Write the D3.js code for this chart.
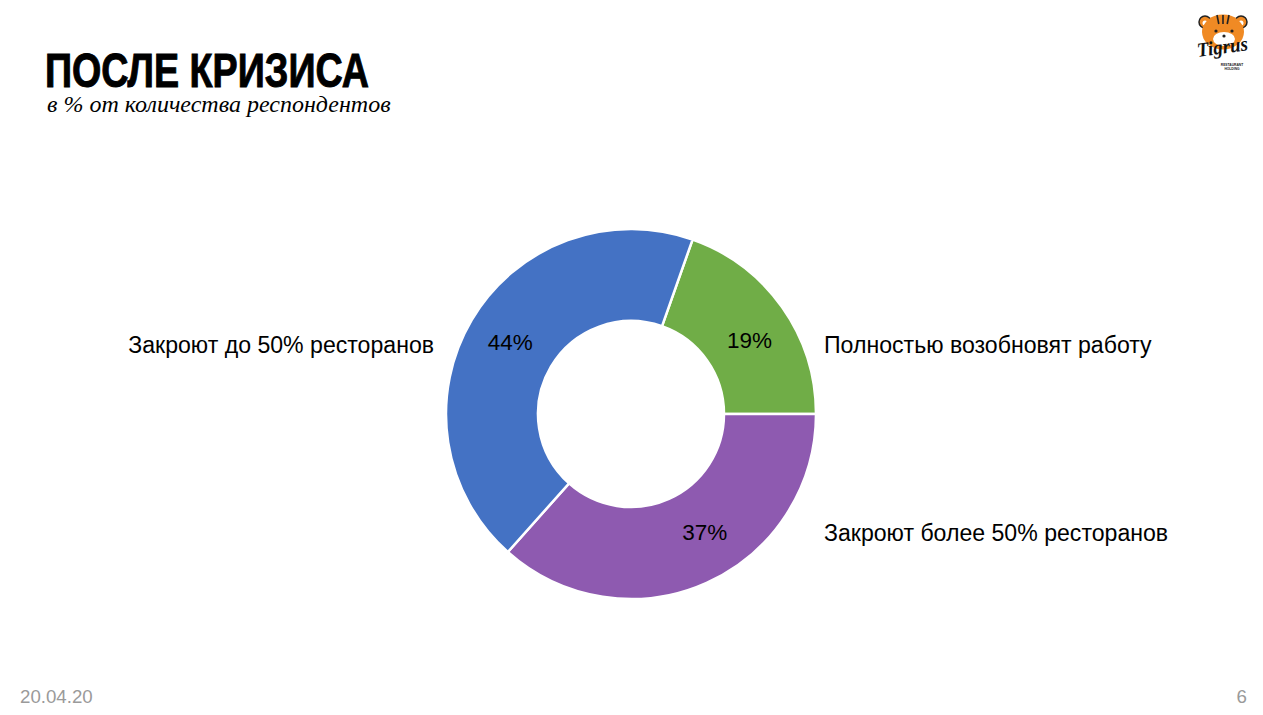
<!DOCTYPE html>
<html><head><meta charset="utf-8">
<script src="https://cdn.jsdelivr.net/npm/d3@7"></script>
<style>html,body{margin:0;padding:0;background:#fff}svg{display:block}</style></head>
<body><svg id="c" width="1263" height="715"></svg>
<script>
const categories=["Полностью возобновят работу","Закроют более 50% ресторанов","Закроют до 50% ресторанов"];
const values=[19.6,36.6,43.8];
const valueLabels=["19%","37%","44%"];
const colors=["#70ad47","#8e5ab0","#4472c4"];
const svg=d3.select("#c");
const font="Helvetica, 'Liberation Sans', Arial, sans-serif";
const cx=631,cy=414,R=185,r=93;
const pie=d3.pie().sort(null).value(d=>d)(values);
const arc=d3.arc().innerRadius(r).outerRadius(R);
const g=svg.append("g").attr("transform",`translate(${cx},${cy})`);
const off=Math.PI/2-pie[0].endAngle;
const slices=pie.map(p=>({startAngle:p.startAngle+off,endAngle:p.endAngle+off}));
g.selectAll("path").data(slices).join("path").attr("d",arc)
 .attr("fill",(d,i)=>colors[i]).attr("stroke","#fff").attr("stroke-width",2.5);
const labelArc=d3.arc().innerRadius((R+r)/2).outerRadius((R+r)/2);
const nudge=[[5,6],[17,-9],[-1,-1]];
g.selectAll("text").data(slices).join("text")
 .attr("transform",(d,i)=>{const c=labelArc.centroid(d);return `translate(${c[0]+nudge[i][0]},${c[1]+nudge[i][1]})`})
 .attr("text-anchor","middle").attr("dy","0.35em")
 .attr("font-family",font).attr("font-size",22.5).attr("fill","#000")
 .text((d,i)=>valueLabels[i]);
const side=[{x:824,y:344.5,a:"start"},{x:824,y:532.5,a:"start"},{x:434,y:344.5,a:"end"}];
svg.selectAll("text.cat").data(categories).join("text").attr("class","cat")
 .attr("x",(d,i)=>side[i].x).attr("y",(d,i)=>side[i].y).attr("text-anchor",(d,i)=>side[i].a)
 .attr("dy","0.35em").attr("font-family",font).attr("font-size",23.1).attr("fill","#000").text(d=>d);
svg.append("text").attr("transform","translate(45,87) scale(0.785,1)").attr("font-family","'Liberation Sans',sans-serif")
 .attr("font-weight",700).attr("font-size",48).attr("stroke","#000").attr("stroke-width",1).text("ПОСЛЕ КРИЗИСА");
svg.append("text").attr("x",47).attr("y",112).attr("font-family","'Liberation Serif',serif")
 .attr("font-style","italic").attr("font-size",24).text("в % от количества респондентов");
svg.append("text").attr("x",20).attr("y",703).attr("font-family",font).attr("font-size",18.7).attr("fill","#9a9a9a").text("20.04.20");
svg.append("text").attr("x",1247).attr("y",703).attr("text-anchor","end").attr("font-family",font).attr("font-size",18.7).attr("fill","#9a9a9a").text("6");
// logo
const logo=svg.append("g").attr("transform","translate(1223,32)");
[-18,18].forEach(x=>{
 logo.append("circle").attr("cx",x).attr("cy",-10).attr("r",6).attr("fill","#f08a24").attr("stroke","#222").attr("stroke-width",1.5);
 logo.append("circle").attr("cx",x).attr("cy",-9).attr("r",2.5).attr("fill","#fff");
});
logo.append("ellipse").attr("rx",21).attr("ry",17.5).attr("fill","#f08a24");
logo.append("ellipse").attr("cx",1).attr("cy",7).attr("rx",11).attr("ry",7).attr("fill","#fff");
[-8,8].forEach(x=>logo.append("circle").attr("cx",x+1).attr("cy",-1).attr("r",1.6).attr("fill","#222"));
logo.append("circle").attr("cx",1).attr("cy",4).attr("r",1.6).attr("fill","#222");
[-6,0,6].forEach(x=>logo.append("line").attr("x1",x).attr("x2",x*0.7).attr("y1",-17).attr("y2",-8).attr("stroke","#222").attr("stroke-width",1.6));
logo.append("text").attr("transform","translate(-25,25) rotate(-8)").attr("font-family","'Liberation Serif',serif").attr("font-style","italic").attr("font-weight",700).attr("font-size",20).attr("textLength",51).attr("lengthAdjust","spacingAndGlyphs").attr("fill","#111").text("Tigrus");
logo.append("text").attr("x",9).attr("y",33.5).attr("text-anchor","middle").attr("font-family",font).attr("font-weight",700).attr("font-size",3.3).attr("fill","#222").text("RESTAURANT");
logo.append("text").attr("x",9).attr("y",37.5).attr("text-anchor","middle").attr("font-family",font).attr("font-weight",700).attr("font-size",3.3).attr("fill","#222").text("HOLDING");
</script></body></html>
